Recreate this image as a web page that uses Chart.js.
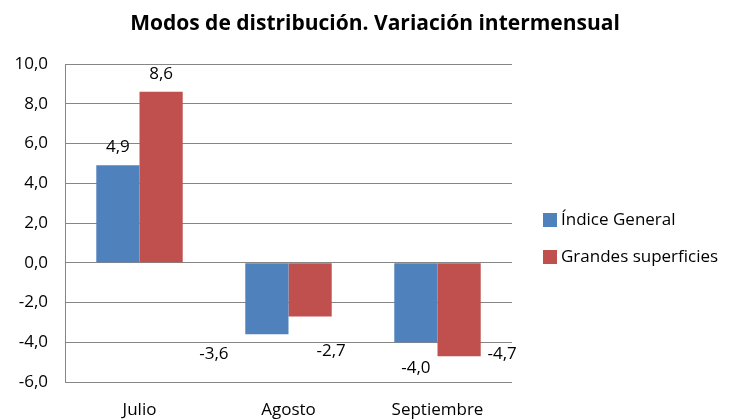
<!DOCTYPE html>
<html>
<head>
<meta charset="utf-8">
<script src="https://cdn.jsdelivr.net/npm/chart.js@4/dist/chart.umd.min.js"></script>
<style>
  html, body { margin: 0; padding: 0; background: #fff; }
  #wrap { width: 729px; height: 420px; }
</style>
</head>
<body>
<div id="wrap"><canvas id="grafico" width="729" height="420"></canvas></div>
<script>
// Datos del gráfico
const titulo = 'Modos de distribución. Variación intermensual';
const meses = ['Julio', 'Agosto', 'Septiembre'];
const indiceGeneral = [4.9, -3.6, -4.0];
const grandesSuperficies = [8.6, -2.7, -4.7];
const series = ['Índice General', 'Grandes superficies'];

const fuente = '"Open Sans", "DejaVu Sans", sans-serif';
const formato = v => v.toFixed(1).replace('.', ',');

// Desplazamiento manual de las etiquetas negativas (como en el original)
const ajusteEtiquetas = [
  [[0, 0], [-53, 20], [0, 26]],
  [[0, 0], [21, 35], [43, -2]]
];

const extras = {
  id: 'extras',
  afterDatasetsDraw(chart) {
    const c = chart.ctx;
    c.save();
    // etiquetas de datos
    c.font = '17px ' + fuente;
    c.fillStyle = '#000';
    c.textAlign = 'center';
    c.textBaseline = 'middle';
    chart.data.datasets.forEach((ds, i) => {
      chart.getDatasetMeta(i).data.forEach((bar, j) => {
        const v = ds.data[j];
        const [dx, dy] = ajusteEtiquetas[i][j];
        if (v >= 0) {
          c.fillText(formato(v), bar.x, bar.y - 18);
        } else {
          c.fillText(formato(v), bar.x + dx, bar.y + dy);
        }
      });
    });
    // título
    c.font = 'bold 21px ' + fuente;
    c.fillText(titulo, 375, 24);
    // leyenda
    c.textAlign = 'left';
    c.font = '17px ' + fuente;
    chart.data.datasets.forEach((ds, i) => {
      const y = 220 + i * 37;
      c.fillStyle = ds.backgroundColor;
      c.fillRect(543, y - 7, 14, 14);
      c.fillStyle = '#000';
      c.fillText(ds.label, 561, y);
    });
    c.restore();
  }
};

const ctx = document.getElementById('grafico').getContext('2d');
const grafico = new Chart(ctx, {
  type: 'bar',
  data: {
    labels: meses,
    datasets: [
      { label: series[0], data: indiceGeneral, backgroundColor: '#4F81BD' },
      { label: series[1], data: grandesSuperficies, backgroundColor: '#C0504D' }
    ]
  },
  options: {
    responsive: false,
    animation: false,
    layout: { padding: { top: 64, right: 217, bottom: 0, left: 0 } },
    datasets: { bar: { categoryPercentage: 0.58, barPercentage: 1.0 } },
    plugins: {
      legend: { display: false },
      title: { display: false },
      tooltip: { enabled: false }
    },
    scales: {
      x: {
        grid: { display: false, drawTicks: false },
        border: { display: false },
        ticks: { color: '#000', font: { family: fuente, size: 17 }, padding: 18 },
        afterFit: s => { s.height = 38; }
      },
      y: {
        min: -6, max: 10,
        ticks: {
          stepSize: 2, color: '#000', padding: 17,
          font: { family: fuente, size: 17 },
          callback: v => formato(v)
        },
        grid: { color: '#868686', lineWidth: 1, drawTicks: false },
        border: { color: '#868686', width: 1 },
        afterFit: s => { s.width = 65; }
      }
    }
  },
  plugins: [extras]
});
</script>
</body>
</html>
